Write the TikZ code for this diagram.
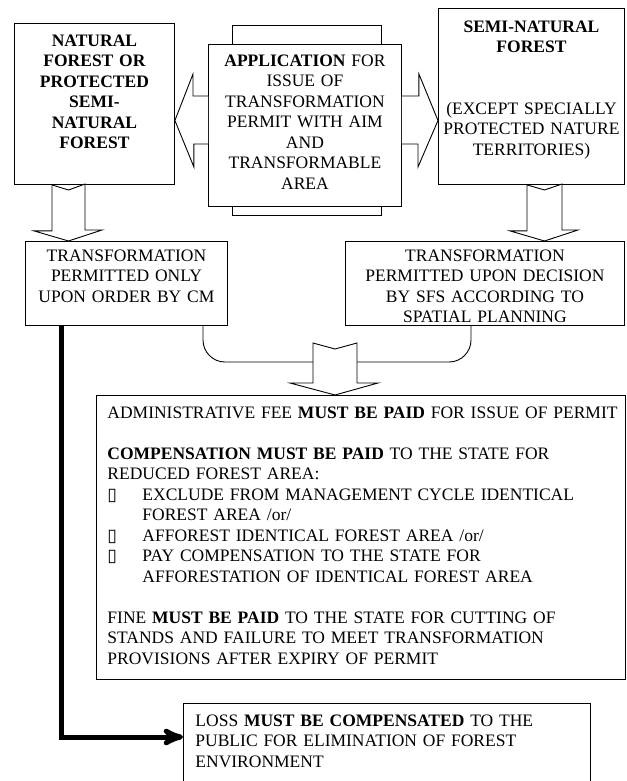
\documentclass[tikz,border=0pt]{standalone}
\usepackage{fontspec}
\setmainfont{Liberation Serif}
\newfontfamily\symfont{DejaVu Sans}
\usetikzlibrary{arrows}

\newcommand{\bx}{\makebox[35pt][l]{\symfont ▯}}

\begin{document}
\begin{tikzpicture}[x=1pt,y=-1pt,>=stealth',
  box/.style={draw,fill=white,line width=0.9pt,inner ysep=0pt,inner xsep=0pt,
    anchor=north west,font=\fontsize{17.5}{20.5}\selectfont},
  block arrow/.style={draw,fill=white,line width=0.9pt},
  thick arrow/.style={->,line width=5pt}]
  \useasboundingbox (0,0) rectangle (626,781);

  \node[box,align=center,text width=160pt,text height=22.8pt,text depth=138.2pt] (natural) at (14,23)
    {\textbf{NATURAL\\FOREST OR\\PROTECTED\\SEMI-\\NATURAL\\FOREST}};
  \node[box,minimum width=149pt,minimum height=190pt] (appback) at (232,25) {};
  \node[box,align=center,text width=193pt,text height=21.8pt,text depth=140.2pt] (application) at (208,44)
    {\textbf{APPLICATION} FOR\\ISSUE OF\\TRANSFORMATION\\PERMIT WITH AIM\\AND\\TRANSFORMABLE\\AREA};
  \node[box,align=center,text width=186pt,text height=23.8pt,text depth=152.2pt] (seminat) at (438,8)
    {\textbf{SEMI-NATURAL}\\\textbf{FOREST}\\~\\~\\(EXCEPT SPECIALLY\\PROTECTED NATURE\\TERRITORIES)};
  \node[box,align=center,text width=202pt,text height=19.8pt,text depth=64.2pt] (onlycm) at (25,241)
    {TRANSFORMATION\\PERMITTED ONLY\\UPON ORDER BY CM};
  \node[box,align=center,text width=279pt,text height=19.8pt,text depth=64.2pt] (spsfs) at (345,241)
    {TRANSFORMATION\\PERMITTED UPON DECISION\\BY SFS ACCORDING TO\\SPATIAL PLANNING};
  \node[box,align=left,inner xsep=11pt,text width=507pt,text height=22.8pt,text depth=261.2pt] (fees) at (96,395)
    {\mbox{ADMINISTRATIVE FEE \textbf{MUST BE PAID} FOR ISSUE OF PERMIT}\\
     ~\\
     \textbf{COMPENSATION MUST BE PAID} TO THE STATE FOR\\
     REDUCED FOREST AREA:\\
     \bx EXCLUDE FROM MANAGEMENT CYCLE IDENTICAL\\
     \hspace*{35pt}FOREST AREA /or/\\
     \bx AFFOREST IDENTICAL FOREST AREA /or/\\
     \bx PAY COMPENSATION TO THE STATE FOR\\
     \hspace*{35pt}AFFORESTATION OF IDENTICAL FOREST AREA\\
     ~\\
     FINE \textbf{MUST BE PAID} TO THE STATE FOR CUTTING OF\\
     STANDS AND FAILURE TO MEET TRANSFORMATION\\
     PROVISIONS AFTER EXPIRY OF PERMIT};
  \node[box,align=left,inner xsep=12pt,text width=383pt,text height=22.8pt,text depth=60.2pt] (loss) at (183,703)
    {LOSS \textbf{MUST BE COMPENSATED} TO THE\\PUBLIC FOR ELIMINATION OF FOREST\\ENVIRONMENT};
  \coordinate (merge) at (335,362);

  \draw[block arrow] (application.west |- 0,96) -- ++(-15,0) -- ++(0,-22) -- (natural.east |- 0,120.5)
    -- ++(19,46.5) -- ++(0,-23) -- (application.west |- 0,144);
  \draw[block arrow] (application.east |- 0,96) -- ++(17,0) -- ++(0,-22) -- (seminat.west |- 0,120.5)
    -- ++(-20,46.5) -- ++(0,-23) -- (application.east |- 0,144);
  \draw[block arrow] (natural.south -| 52,0) -- ++(0,46) -- ++(-18,0) -- (onlycm.north -| 68.5,0)
    -- ++(33.5,-11) -- ++(-17,0) -- ++(0,-46) -- ++(-16.5,6) -- cycle;
  \draw[block arrow] (seminat.south -| 527,0) -- ++(0,46) -- ++(-17,0) -- (spsfs.north -| 544.5,0)
    -- ++(33.5,-11) -- ++(-16,0) -- ++(0,-46) -- ++(-17.5,6) -- cycle;
  \draw[line width=0.9pt,rounded corners=22pt] (onlycm.south -| 203,0) |- ([xshift=-22pt]merge);
  \draw[line width=0.9pt,rounded corners=22pt] (spsfs.south -| 471,0) |- ([xshift=22pt]merge);
  \draw[block arrow] ([xshift=-22pt]merge |- 0,343) -- ++(22,6) -- ++(22,-6) -- ++(0,40) -- ++(21,0)
    -- (fees.north -| merge) -- ++(-45,-12) -- ++(23,0) -- cycle;
  \draw[thick arrow] (onlycm.south -| 61,0) |- (loss.west |- 0,737);
\end{tikzpicture}
\end{document}
